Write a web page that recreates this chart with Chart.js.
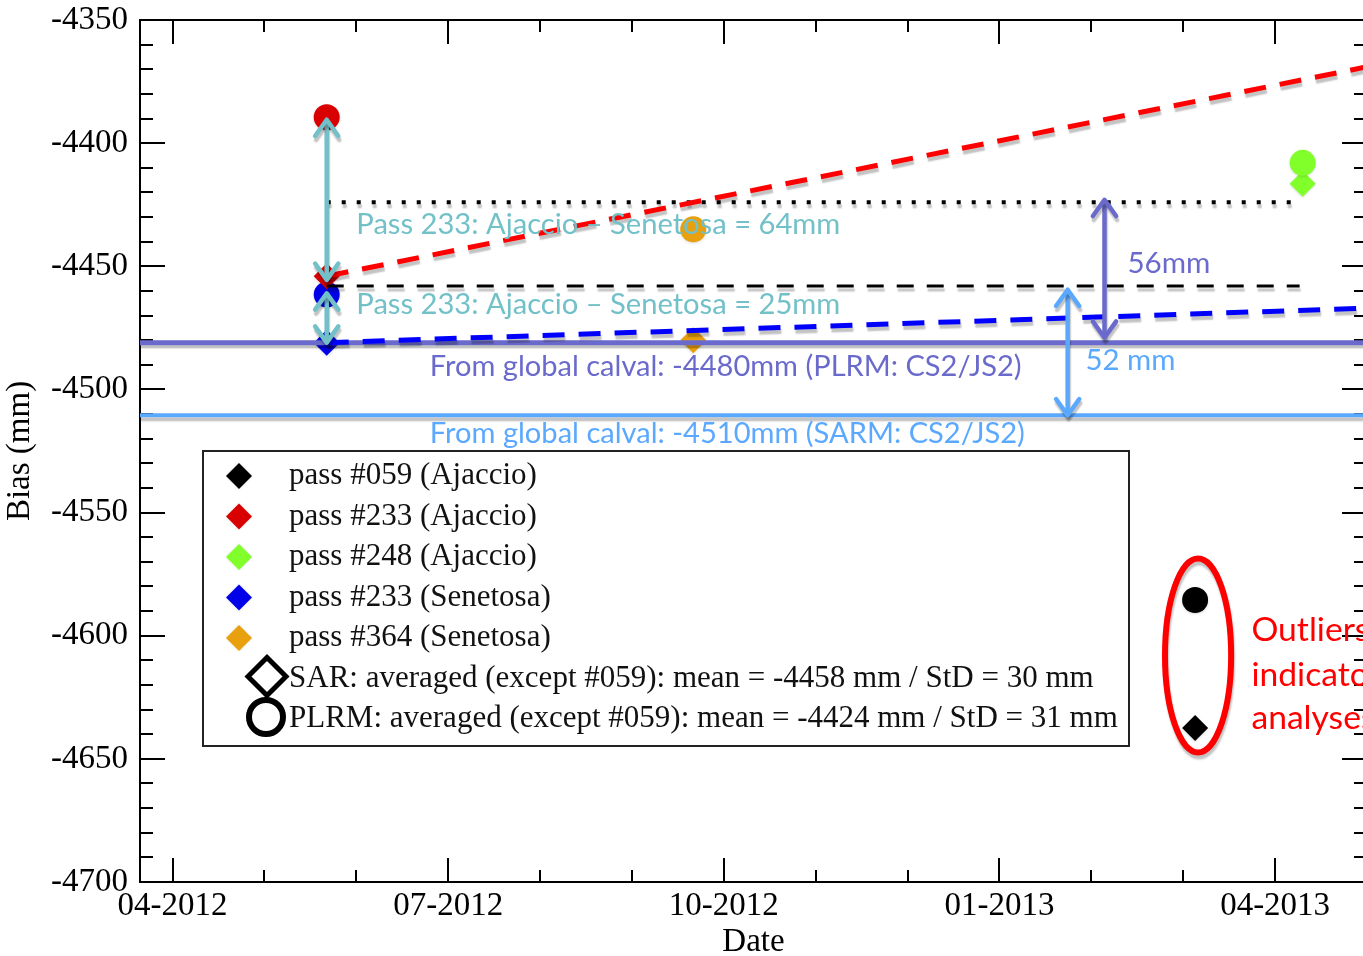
<!DOCTYPE html>
<html><head><meta charset="utf-8">
<script src="https://cdn.jsdelivr.net/npm/chart.js@4.4.1/dist/chart.umd.min.js"></script>
<style>
html,body{margin:0;padding:0;overflow:hidden;background:#fff;}
#wrap{position:relative;width:1380px;height:956px;}
canvas{display:block;}
</style></head><body>
<div id="wrap"><canvas id="c" width="1380" height="956" style="width:1380px;height:956px"></canvas></div>
<script>
// ---------------- DATA ----------------
const passNames = ['pass #059 (Ajaccio)', 'pass #233 (Ajaccio)', 'pass #248 (Ajaccio)', 'pass #233 (Senetosa)', 'pass #364 (Senetosa)'];
const passColors = ['#000000', '#d80000', '#80ff2a', '#0000e8', '#e9a00e'];
const passDates = ['2013-03-05', '2012-05-22', '2013-04-10', '2012-05-22', '2012-09-21'];
const sarBias  = [-4637.5, -4454, -4416.5, -4481, -4480];
const plrmBias = [-4585.5, -4389.5, -4408, -4461.5, -4435];

const averageLabels = ['SAR: averaged (except #059): mean = -4458 mm / StD = 30 mm',
                       'PLRM: averaged (except #059): mean = -4424 mm / StD = 31 mm'];
const meanDates = ['2012-05-22', '2013-04-09'];
const sarMeanValues  = [-4458, -4458];
const plrmMeanValues = [-4424, -4424];

const trendDates = ['2012-05-22', '2013-05-01'];
const trendAjaccioValues  = [-4454, -4369];
const trendSenetosaValues = [-4481, -4467];

const globalDates = ['2012-03-20', '2013-05-01'];
const globalPlrmValues = [-4481, -4481];
const globalSarValues  = [-4510.5, -4510.5];

const xRange = ['2012-03-21', '2013-05-01'];
const yRange = [-4700, -4350];
const majorTickDates  = ['2012-04-01', '2012-07-01', '2012-10-01', '2013-01-01', '2013-04-01'];
const majorTickLabels = ['04-2012', '07-2012', '10-2012', '01-2013', '04-2013'];
const minorTickDates  = ['2012-04-01','2012-05-01','2012-06-01','2012-07-01','2012-08-01','2012-09-01','2012-10-01','2012-11-01','2012-12-01','2013-01-01','2013-02-01','2013-03-01','2013-04-01'];

// double arrows: date, from value, to value
const arrowDates = ['2012-05-22', '2012-05-22', '2013-02-05', '2013-01-24'];
const arrowFrom  = [-4390.5, -4461, -4423, -4459.5];
const arrowTo    = [-4455.5, -4481, -4479, -4510.5];

const noteTexts = ['Pass 233: Ajaccio \u2013 Senetosa = 64mm', 'Pass 233: Ajaccio \u2013 Senetosa = 25mm', '56mm', '52 mm',
  'From global calval: -4480mm (PLRM: CS2/JS2)', 'From global calval: -4510mm (SARM: CS2/JS2)',
  'Outliers', 'indicators', 'analyses'];
const noteDates  = ['2012-06-01', '2012-06-01', '2013-02-12', '2013-01-30', '2012-06-25', '2012-06-25', '2013-03-24', '2013-03-24', '2013-03-24'];
const noteValues = [-4433.2, -4465.7, -4448.7, -4488.4, -4490.9, -4518.1, -4597.7, -4616, -4633.4];

const outlierCenterDate = '2013-03-06';
const outlierCenterValue = -4608;
const outlierHalfMonths = 0.36;
const outlierHalfMm = 39.4;

// ---------------- STYLES ----------------
const TEAL = '#72c0c8', PURPLE = '#6a6acc', LBLUE = '#5ba9ff', RED = '#ff0000';
const arrowColors = [TEAL, TEAL, PURPLE, LBLUE];
const noteColors = [TEAL, TEAL, PURPLE, LBLUE, PURPLE, LBLUE, RED, RED, RED];
const noteWidths = [484, 484, 83, 90, 592, 595]; // target pixel widths of the first six notes
const SANS = 'Lato, "Open Sans", sans-serif';
const SERIF = '"Liberation Serif", "Times New Roman", serif';

// x axis is linear in months (value = months since 2012-01-01, fractional within the month)
const toX = s => {
  const [y, m, d] = s.split('-').map(Number);
  const dim = new Date(Date.UTC(y, m, 0)).getUTCDate();
  return (y - 2012) * 12 + (m - 1) + (d - 1) / dim;
};
const pts = (dates, vals) => dates.map((d, i) => ({x: toX(d), y: vals[i]}));

const datasets = [];
function lineDs(label, data, color, width, dash, order) {
  return {label, data, type: 'scatter', showLine: true, borderColor: color, borderWidth: width, borderDash: dash,
          pointRadius: 0, backgroundColor: color, fill: false, order, shadow: true, borderCapStyle: 'butt'};
}
datasets.push(lineDs('trend Ajaccio', pts(trendDates, trendAjaccioValues), '#ff0000', 5, [22, 14], 1));
datasets.push(lineDs('trend Senetosa', pts(trendDates, trendSenetosaValues), '#0000ff', 5, [22, 14], 2));
datasets.push(lineDs('SAR mean', pts(meanDates, sarMeanValues), '#000000', 3, [17, 13], 3));
datasets.push(lineDs('PLRM mean', pts(meanDates, plrmMeanValues), '#000000', 4, [4, 11], 4));
datasets.push(lineDs('global PLRM', pts(globalDates, globalPlrmValues), PURPLE, 5, [], 5));
datasets.push(lineDs('global SAR', pts(globalDates, globalSarValues), LBLUE, 4, [], 6));
passNames.forEach((n, i) => {
  datasets.push({label: n + ' PLRM', data: [{x: toX(passDates[i]), y: plrmBias[i]}], pointStyle: 'circle',
    pointRadius: 13, backgroundColor: passColors[i], borderWidth: 0, order: 10, glow: true});
  datasets.push({label: n + ' SAR', data: [{x: toX(passDates[i]), y: sarBias[i]}], pointStyle: 'rectRot',
    pointRadius: 13, backgroundColor: passColors[i], borderWidth: 0, order: 10, glow: true});
});

// ---------------- PLUGINS ----------------
const shadowPlugin = {
  id: 'shadow',
  beforeDatasetDraw(chart, args) {
    const ds = chart.data.datasets[args.index];
    const ctx = chart.ctx;
    ctx.save();
    if (ds.shadow) {
      ctx.shadowColor = 'rgba(0,0,0,0.24)'; ctx.shadowOffsetX = 1; ctx.shadowOffsetY = 4; ctx.shadowBlur = 1.5;
    } else if (ds.glow) {
      ctx.shadowColor = 'rgba(0,0,0,0.15)'; ctx.shadowOffsetX = 0; ctx.shadowOffsetY = 1; ctx.shadowBlur = 3;
    }
  },
  afterDatasetDraw(chart) { chart.ctx.restore(); }
};

const framePlugin = {
  id: 'frame',
  beforeDatasetsDraw(chart) {
    const {ctx, chartArea: a, scales: {x, y}} = chart;
    ctx.save();
    ctx.strokeStyle = '#000'; ctx.lineWidth = 2; ctx.lineCap = 'butt';
    ctx.strokeRect(a.left, a.top, a.right - a.left, a.bottom - a.top);
    const seg = (x1, y1, x2, y2) => { ctx.beginPath(); ctx.moveTo(x1, y1); ctx.lineTo(x2, y2); ctx.stroke(); };
    minorTickDates.forEach(d => {
      const px = Math.round(x.getPixelForValue(toX(d)));
      const len = majorTickDates.includes(d) ? 24 : 12;
      seg(px, a.bottom, px, a.bottom - len);
      seg(px, a.top, px, a.top + len);
    });
    for (let v = yRange[0]; v <= yRange[1]; v += 10) {
      const py = Math.round(y.getPixelForValue(v));
      const len = (v % 50 === 0) ? 25 : 13;
      seg(a.left, py, a.left + len, py);
      seg(a.right, py, a.right - len, py);
    }
    ctx.restore();
  }
};

function drawArrow(ctx, x, y1, y2, color) {
  const L = 20, ang = 0.62;
  ctx.save();
  ctx.strokeStyle = color; ctx.lineWidth = 4.5; ctx.lineCap = 'round'; ctx.lineJoin = 'round';
  ctx.shadowColor = 'rgba(0,0,0,0.24)'; ctx.shadowOffsetX = 1; ctx.shadowOffsetY = 4; ctx.shadowBlur = 1.5;
  const dir = y2 > y1 ? 1 : -1;
  ctx.beginPath(); ctx.moveTo(x, y1 + dir * 2); ctx.lineTo(x, y2 - dir * 2); ctx.stroke();
  const head = (ty, d) => {
    ctx.beginPath();
    ctx.moveTo(x - Math.sin(ang) * L, ty + d * Math.cos(ang) * L);
    ctx.lineTo(x, ty);
    ctx.lineTo(x + Math.sin(ang) * L, ty + d * Math.cos(ang) * L);
    ctx.stroke();
  };
  head(y1, dir); head(y2, -dir);
  ctx.restore();
}

const notesPlugin = {
  id: 'notes',
  afterDatasetsDraw(chart) {
    const {ctx, scales: {x, y}} = chart;
    // outlier ellipse
    ctx.save();
    const cx = x.getPixelForValue(toX(outlierCenterDate)), cy = y.getPixelForValue(outlierCenterValue);
    const rx = Math.abs(x.getPixelForValue(toX(outlierCenterDate) + outlierHalfMonths) - cx);
    const ry = Math.abs(y.getPixelForValue(outlierCenterValue + outlierHalfMm) - cy);
    ctx.strokeStyle = RED; ctx.lineWidth = 6;
    ctx.shadowColor = 'rgba(0,0,0,0.24)'; ctx.shadowOffsetX = 1; ctx.shadowOffsetY = 4; ctx.shadowBlur = 2;
    ctx.beginPath(); ctx.ellipse(cx, cy, rx, ry, 0, 0, Math.PI * 2); ctx.stroke();
    ctx.restore();
    // arrows
    arrowDates.forEach((d, i) => {
      drawArrow(ctx, x.getPixelForValue(toX(d)), y.getPixelForValue(arrowFrom[i]), y.getPixelForValue(arrowTo[i]), arrowColors[i]);
    });
    // texts
    ctx.save();
    ctx.textBaseline = 'middle'; ctx.textAlign = 'left';
    noteTexts.forEach((t, i) => {
      ctx.font = '28px ' + SANS;
      const size = i < 6 ? 28 * noteWidths[i] / ctx.measureText(t).width
                         : 28 * 118 / ctx.measureText(noteTexts[6]).width;
      ctx.font = size.toFixed(2) + 'px ' + SANS;
      ctx.fillStyle = noteColors[i];
      ctx.fillText(t, x.getPixelForValue(toX(noteDates[i])), y.getPixelForValue(noteValues[i]));
    });
    ctx.restore();
  }
};

const legendPlugin = {
  id: 'customLegend',
  afterDraw(chart) {
    const ctx = chart.ctx;
    const box = {x: 203, y: 451, w: 926, h: 295};
    ctx.save();
    ctx.fillStyle = '#fff';
    ctx.fillRect(box.x, box.y, box.w, box.h);
    ctx.strokeStyle = '#222'; ctx.lineWidth = 2;
    ctx.strokeRect(box.x, box.y, box.w, box.h);
    const rowY = i => 476 + i * 40.5;
    ctx.font = '31px ' + SERIF; ctx.textBaseline = 'middle'; ctx.textAlign = 'left';
    passNames.forEach((n, i) => {
      const cy = rowY(i), cx = 239, r = 13;
      ctx.save();
      ctx.shadowColor = 'rgba(0,0,0,0.12)'; ctx.shadowBlur = 3;
      ctx.fillStyle = passColors[i];
      ctx.beginPath(); ctx.moveTo(cx - r, cy); ctx.lineTo(cx, cy - r); ctx.lineTo(cx + r, cy); ctx.lineTo(cx, cy + r); ctx.closePath(); ctx.fill();
      ctx.restore();
      ctx.fillStyle = '#111';
      ctx.fillText(n, 289, cy);
    });
    // SAR open diamond
    ctx.strokeStyle = '#000'; ctx.lineWidth = 5; ctx.lineJoin = 'miter';
    let cx = 267, cy = rowY(5) - 2, r = 19;
    ctx.beginPath(); ctx.moveTo(cx - r, cy); ctx.lineTo(cx, cy - r); ctx.lineTo(cx + r, cy); ctx.lineTo(cx, cy + r); ctx.closePath(); ctx.stroke();
    // PLRM open circle
    ctx.lineWidth = 6;
    ctx.beginPath(); ctx.arc(266, rowY(6) - 2, 17, 0, Math.PI * 2); ctx.stroke();
    ctx.fillStyle = '#111';
    ctx.fillText(averageLabels[0], 289, rowY(5));
    ctx.fillText(averageLabels[1], 289, rowY(6));
    ctx.restore();
  }
};

// ---------------- CHART ----------------
new Chart(document.getElementById('c'), {
  type: 'scatter',
  data: {datasets},
  options: {
    responsive: false, animation: false, events: [], devicePixelRatio: 1,
    layout: {padding: {top: 20, right: 9, left: 0, bottom: 0}},
    plugins: {legend: {display: false}, tooltip: {enabled: false}},
    scales: {
      x: {
        type: 'linear', min: toX(xRange[0]), max: toX(xRange[1]),
        grid: {display: false, drawTicks: false}, border: {display: false},
        afterBuildTicks: s => { s.ticks = majorTickDates.map(d => ({value: toX(d)})); },
        ticks: {autoSkip: false, maxRotation: 0, minRotation: 0, padding: 8, color: '#000',
                font: {family: SERIF, size: 33, lineHeight: 1}, callback: (v, i) => majorTickLabels[i]},
        title: {display: true, text: 'Date', color: '#000', font: {family: SERIF, size: 33, lineHeight: 0.8}, padding: {top: 0, bottom: 0}},
        afterFit: s => { s.height = 74; s.paddingLeft = 0; s.paddingRight = 0; }
      },
      y: {
        type: 'linear', min: yRange[0], max: yRange[1],
        grid: {display: false, drawTicks: false}, border: {display: false},
        ticks: {stepSize: 50, padding: 12, color: '#000', font: {family: SERIF, size: 33, lineHeight: 1}, callback: v => String(v)},
        title: {display: true, text: 'Bias (mm)', color: '#000', font: {family: SERIF, size: 33, lineHeight: 1}, padding: {top: 4, bottom: 0}},
        afterFit: s => { s.width = 140; s.paddingTop = 0; s.paddingBottom = 0; }
      }
    }
  },
  plugins: [shadowPlugin, framePlugin, notesPlugin, legendPlugin]
});
</script>
</body></html>
